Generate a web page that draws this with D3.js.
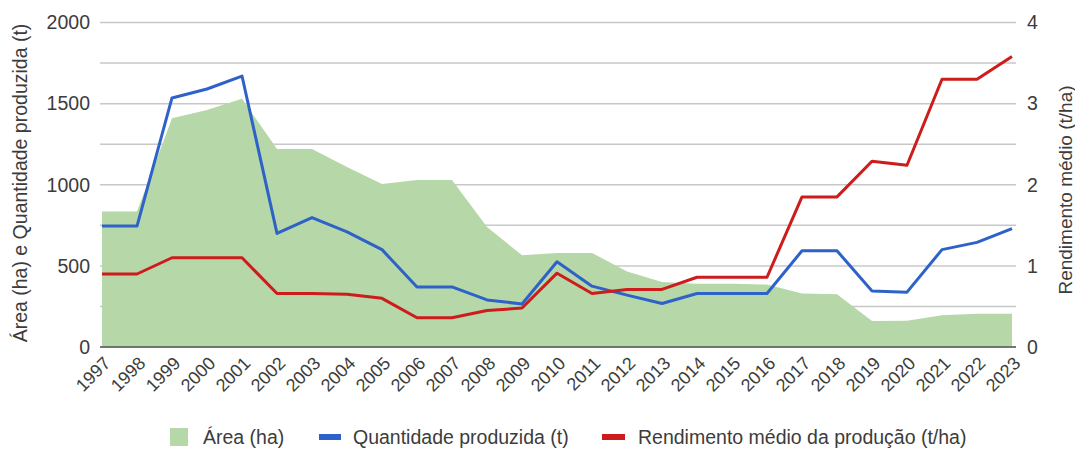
<!DOCTYPE html>
<html>
<head>
<meta charset="utf-8">
<script src="https://cdn.jsdelivr.net/npm/d3@7"></script>
<style>
  body { margin: 0; background: #fff; }
  svg { font-family: "Liberation Sans", Arial, sans-serif; }
</style>
</head>
<body>
<svg width="1075" height="459"></svg>
<script>
const years = ["1997","1998","1999","2000","2001","2002","2003","2004","2005","2006","2007","2008","2009",
  "2010","2011","2012","2013","2014","2015","2016","2017","2018","2019","2020","2021","2022","2023"];
const area = [835, 835, 1410, 1460, 1530, 1220, 1220, 1110, 1005, 1030, 1030, 740, 565,
  580, 580, 465, 400, 390, 390, 385, 330, 325, 160, 162, 195, 205, 205];
const quantidade = [745, 745, 1535, 1590, 1670, 700, 798, 710, 600, 370, 370, 290, 265,
  525, 375, 320, 268, 330, 330, 330, 593, 593, 345, 338, 600, 645, 730];
const rendimento = [0.90, 0.90, 1.10, 1.10, 1.10, 0.66, 0.66, 0.65, 0.60, 0.36, 0.36, 0.45, 0.48,
  0.91, 0.66, 0.71, 0.71, 0.86, 0.86, 0.86, 1.85, 1.85, 2.29, 2.24, 3.30, 3.30, 3.58];
const leftTicks = [0, 500, 1000, 1500, 2000];
const rightTicks = [0, 1, 2, 3, 4];
const gridValues = [0, 250, 500, 750, 1000, 1250, 1500, 1750, 2000];

const svg = d3.select("svg");

const plotLeft = 102, plotRight = 1012, plotTop = 22.5, plotBottom = 347;
const textColor = '#3c3c3c';

const x = d3.scalePoint().domain(years).range([plotLeft, plotRight]);
const yLeft = d3.scaleLinear().domain([0, 2000]).range([plotBottom, plotTop]);
const yRight = d3.scaleLinear().domain([0, 4]).range([plotBottom, plotTop]);

// gridlines
svg.append('g')
  .selectAll('line')
  .data(gridValues)
  .enter().append('line')
    .attr('x1', 100)
    .attr('x2', 1016)
    .attr('y1', d => yLeft(d))
    .attr('y2', d => yLeft(d))
    .attr('stroke', '#c8c8c8')
    .attr('stroke-width', 1.5);

// area
const areaGen = d3.area()
  .x((d, i) => x(years[i]))
  .y0(plotBottom)
  .y1(d => yLeft(d));

svg.append('path')
  .attr('d', areaGen(area))
  .attr('fill', '#b6d7a8');

// baseline
svg.append('line')
  .attr('x1', 100).attr('x2', 1016)
  .attr('y1', plotBottom).attr('y2', plotBottom)
  .attr('stroke', '#555')
  .attr('stroke-width', 1.5);

const lineLeft = d3.line().x((d, i) => x(years[i])).y(d => yLeft(d));
const lineRight = d3.line().x((d, i) => x(years[i])).y(d => yRight(d));

svg.append('path')
  .attr('d', lineLeft(quantidade))
  .attr('fill', 'none')
  .attr('stroke', '#2e62c8')
  .attr('stroke-width', 3)
  .attr('stroke-linejoin', 'round');

svg.append('path')
  .attr('d', lineRight(rendimento))
  .attr('fill', 'none')
  .attr('stroke', '#cc1c1c')
  .attr('stroke-width', 3)
  .attr('stroke-linejoin', 'round');

// left axis labels
svg.append('g')
  .selectAll('text')
  .data(leftTicks)
  .enter().append('text')
    .attr('x', 90)
    .attr('y', d => yLeft(d))
    .attr('dy', '0.35em')
    .attr('text-anchor', 'end')
    .attr('font-size', 19.5)
    .attr('fill', textColor)
    .text(d => d);

// right axis labels
svg.append('g')
  .selectAll('text')
  .data(rightTicks)
  .enter().append('text')
    .attr('x', 1027)
    .attr('y', d => yRight(d))
    .attr('dy', '0.35em')
    .attr('text-anchor', 'start')
    .attr('font-size', 19.5)
    .attr('fill', textColor)
    .text(d => d);

// x labels
svg.append('g')
  .selectAll('text')
  .data(years)
  .enter().append('text')
    .attr('transform', d => "translate(" + (x(d) + 5) + "," + (plotBottom + 13) + ") rotate(-45)")
    .attr('text-anchor', 'end')
    .attr('dy', '0.35em')
    .attr('font-size', 18)
    .attr('fill', textColor)
    .text(d => d);

// axis titles
svg.append('text')
  .attr('transform', "translate(20,183) rotate(-90)")
  .attr('text-anchor', 'middle')
  .attr('dy', '0.35em')
  .attr('font-size', 19.5)
  .attr('fill', textColor)
  .text("Área (ha) e Quantidade produzida (t)");

svg.append('text')
  .attr('transform', "translate(1065,190) rotate(-90)")
  .attr('text-anchor', 'middle')
  .attr('dy', '0.35em')
  .attr('font-size', 19)
  .attr('fill', textColor)
  .text("Rendimento médio (t/ha)");

// legend
const legendY = 437;
const legend = svg.append('g');

legend.append('rect')
  .attr('x', 170).attr('y', legendY - 9)
  .attr('width', 18).attr('height', 18)
  .attr('fill', '#b6d7a8');
legend.append('text')
  .attr('x', 203).attr('y', legendY).attr('dy', '0.35em')
  .attr('font-size', 19.5).attr('fill', textColor)
  .text("Área (ha)");

legend.append('line')
  .attr('x1', 319).attr('x2', 341)
  .attr('y1', legendY).attr('y2', legendY)
  .attr('stroke', '#2e62c8').attr('stroke-width', 6);
legend.append('text')
  .attr('x', 353).attr('y', legendY).attr('dy', '0.35em')
  .attr('font-size', 19.5).attr('fill', textColor)
  .text("Quantidade produzida (t)");

legend.append('line')
  .attr('x1', 602).attr('x2', 625)
  .attr('y1', legendY).attr('y2', legendY)
  .attr('stroke', '#cc1c1c').attr('stroke-width', 6);
legend.append('text')
  .attr('x', 638).attr('y', legendY).attr('dy', '0.35em')
  .attr('font-size', 19.5).attr('fill', textColor)
  .text("Rendimento médio da produção (t/ha)");
</script>
</body>
</html>
